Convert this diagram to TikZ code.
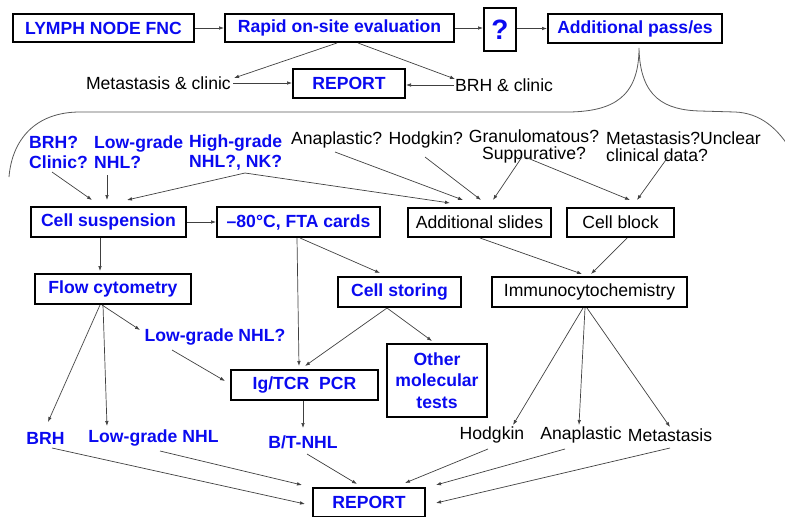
\documentclass[tikz,border=0pt]{standalone}
\usepackage{fontspec}
\setmainfont{Liberation Sans}
\usetikzlibrary{arrows.meta,calc}
\definecolor{tblue}{RGB}{10,10,240}
\newcommand\myfs{\fontsize{17.6}{20}\selectfont}
\newcommand\myfsb{\fontsize{17.6}{17}\selectfont}
\newcommand\myfsc{\fontsize{17.6}{21.5}\selectfont}
\tikzset{
  box/.style={draw=black, line width=2pt, inner sep=0pt, align=center},
  bb/.style={box, text=tblue, font=\bfseries\myfs},
  kb/.style={box, font=\myfs},
  bt/.style={text=tblue, font=\bfseries\myfs, inner sep=0pt},
  kt/.style={font=\myfs, inner sep=0pt},
  arr/.style={-{Latex[length=5pt,width=3.6pt]}, draw=black!75, line width=0.7pt},
  bracel/.style={draw=black!65, line width=0.8pt}
}
\begin{document}
\begin{tikzpicture}[x=1pt,y=-1pt]
\useasboundingbox (0,0) rectangle (785,517);
% row 1
\node[bb, minimum width=181, minimum height=28] (lymph) at (103.5,28) {LYMPH NODE FNC};
\node[bb, minimum width=229, minimum height=28] (rapid) at (339.5,28) {Rapid on-site evaluation};
\node[box, text=tblue, font=\bfseries\fontsize{28}{30}\selectfont, minimum width=32, minimum height=43] (q) at (500,29.5) {?};
\node[bb, minimum width=174, minimum height=29] (addpass) at (635,28.5) {Additional pass/es};
% row 2
\node[kt, anchor=east] (metclin) at (231,83) {Metastasis \& clinic};
\node[bb, minimum width=112, minimum height=29] (report1) at (349,83.5) {REPORT};
\node[kt, anchor=west] (brhclin) at (455,85) {BRH \& clinic};
% brace
\coordinate (tip) at ([shift={(4,4)}]addpass.south);
\draw[bracel] (9,177) .. controls (12,140) and (35,112) .. (80,112) -- (570,112)
  .. controls (612,111) and (639,98) .. (tip)
  .. controls (640,98) and (665,110) .. (700,111) -- (735,112)
  .. controls (760,113) and (778,128) .. (792,152);
% row 3
\node[bt, anchor=west, align=left] (brhq) at (29,152) {BRH?\\Clinic?};
\node[bt, anchor=west, align=left] (lowq) at (94,152) {Low-grade\\NHL?};
\node[bt, anchor=west, align=left] (highq) at (189,152) {High-grade\\NHL?, NK?};
\node[kt, anchor=west] (anaq) at (291,140) {Anaplastic? Hodgkin?};
\node[kt, font=\myfsb, align=center] (granq) at (534,146) {Granulomatous?\\Suppurative?};
\node[kt, font=\myfsb, anchor=west, align=left] (metq) at (606,146.5) {Metastasis?Unclear\\clinical data?};
% row 4
\node[bb, minimum width=155, minimum height=30] (cellsusp) at (108.5,222) {Cell suspension};
\node[bb, minimum width=163, minimum height=30] (fta) at (298.5,222) {–80°C, FTA cards};
\node[kb, minimum width=143, minimum height=29] (addslides) at (479.5,222.5) {Additional slides};
\node[kb, minimum width=107, minimum height=29] (cellblock) at (620.5,222.5) {Cell block};
% row 5
\node[bb, minimum width=156, minimum height=30] (flow) at (113,289) {Flow cytometry};
\node[bb, minimum width=123, minimum height=30] (storing) at (399.5,292) {Cell storing};
\node[kb, minimum width=195, minimum height=30] (immuno) at (589.5,292) {Immunocytochemistry};
% row 6
\node[bt] (lowq2) at (215,337) {Low-grade NHL?};
\node[bb, font=\bfseries\myfsc, minimum width=100, minimum height=73] (other) at (437,380.5) {Other\\molecular\\tests};
\node[bb, minimum width=147, minimum height=30] (igtcr) at (304.5,385) {Ig/TCR\ \ PCR};
% row 7
\node[bt] (brh) at (45.5,438) {BRH};
\node[bt] (lowgrade) at (153.5,438) {Low-grade NHL};
\node[bt] (btnhl) at (303,442) {B/T-NHL};
\node[kt] (hodgkin) at (492,435) {Hodgkin};
\node[kt] (anaplastic) at (581,435) {Anaplastic};
\node[kt] (metastasis) at (670,435) {Metastasis};
\node[bb, minimum width=112, minimum height=29] (report2) at (369,502.5) {REPORT};
% connectors row 1-2
\draw[arr] (lymph.east) -- (rapid.west);
\draw[arr] (rapid.east) -- (rapid.east -| q.west);
\draw[arr] (addpass.west -| q.east) -- (addpass.west);
\draw[arr] ([shift={(-2.5,0)}]rapid.south) -- ([shift={(3,-5)}]metclin.east);
\draw[arr] ([shift={(18.5,0)}]rapid.south) -- ([shift={(0,-6)}]brhclin.west);
\draw[arr] ([shift={(2,0)}]metclin.east) -- (report1.west |- metclin.east);
\draw[arr] ([shift={(-1,0)}]brhclin.west) -- (brhclin.west -| report1.east);
% row 3 -> row 4
\draw[arr] ([shift={(23,20)}]brhq.west) -- ([shift={(-16.5,-6)}]cellsusp.north);
\draw[arr] ([shift={(13,23)}]lowq.west) -- ([shift={(-1.5,-6)}]cellsusp.north);
\draw[arr] ([shift={(56,21)}]highq.west) -- ([shift={(18.5,-6)}]cellsusp.north);
\draw[arr] ([shift={(56,21)}]highq.west) -- ([shift={(-29.5,-4)}]addslides.north);
\draw[arr] ([shift={(44,12)}]anaq.west) -- ([shift={(-16.5,-7)}]addslides.north);
\draw[arr] ([shift={(134,17)}]anaq.west) -- ([shift={(1.5,-7)}]addslides.north);
\draw[arr] ([shift={(-12,11)}]granq.center) -- ([shift={(13.5,-7)}]addslides.north);
\draw[arr] ([shift={(-9,11)}]granq.center) -- ([shift={(9.5,-7)}]cellblock.north);
\draw[arr] ([shift={(62,10.5)}]metq.west) -- ([shift={(16.5,-7)}]cellblock.north);
% row 4 -> row 5
\draw[arr] (cellsusp.east) -- (fta.west);
\draw[arr] ([shift={(-8.5,0)}]cellsusp.south) -- ([shift={(-13,-2)}]flow.north);
\draw[arr] ([shift={(1.5,0)}]fta.south) -- ([shift={(-19.5,-3)}]storing.north);
\draw[arr] ([shift={(-1.5,0)}]fta.south) -- ([shift={(-5.5,-3)}]igtcr.north);
\draw[arr] ([shift={(0.5,0)}]addslides.south) -- ([shift={(-7.5,-2)}]immuno.north);
\draw[arr] ([shift={(6.5,0)}]cellblock.south) -- ([shift={(1.5,-2)}]immuno.north);
% row 5 -> row 6/7
\draw[arr] ([shift={(-11,0)}]flow.south) -- ([shift={(-75,-7)}]lowq2.center);
\draw[arr] ([shift={(-13,0)}]flow.south) -- ([shift={(2.5,-16)}]brh.center);
\draw[arr] ([shift={(-10,0)}]flow.south) -- ([shift={(-46.5,-12)}]lowgrade.center);
\draw[arr] ([shift={(-12.5,0)}]storing.south) -- ([shift={(0.5,-3)}]igtcr.north);
\draw[arr] ([shift={(-12.5,0)}]storing.south) -- ([shift={(-5,-2)}]other.north);
\draw[arr] ([shift={(-43,13)}]lowq2.center) -- ([shift={(-5,-4)}]igtcr.west);
\draw[arr] ([shift={(-1.5,0)}]igtcr.south) -- ([shift={(0,-14)}]btnhl.center);
\draw[arr] ([shift={(-6.5,0)}]immuno.south) -- ([shift={(21,-10)}]hodgkin.center);
\draw[arr] ([shift={(-4.5,0)}]immuno.south) -- ([shift={(-2,-10)}]anaplastic.center);
\draw[arr] ([shift={(-2.5,0)}]immuno.south) -- ([shift={(0,-8)}]metastasis.center);
% row 7 -> report
\draw[arr] ([shift={(6.5,10)}]brh.center) -- ([shift={(-7,1.5)}]report2.west);
\draw[arr] ([shift={(6.5,13)}]lowgrade.center) -- ([shift={(-10,-2)}]report2.north west);
\draw[arr] ([shift={(4,12)}]btnhl.center) -- ([shift={(-12,-3)}]report2.north);
\draw[arr] ([shift={(-4,14)}]hodgkin.center) -- ([shift={(36,-4)}]report2.north);
\draw[arr] ([shift={(-16,14)}]anaplastic.center) -- ([shift={(10,-2)}]report2.north east);
\draw[arr] ([shift={(0,13)}]metastasis.center) -- ([shift={(10,0.5)}]report2.east);
\end{tikzpicture}
\end{document}
